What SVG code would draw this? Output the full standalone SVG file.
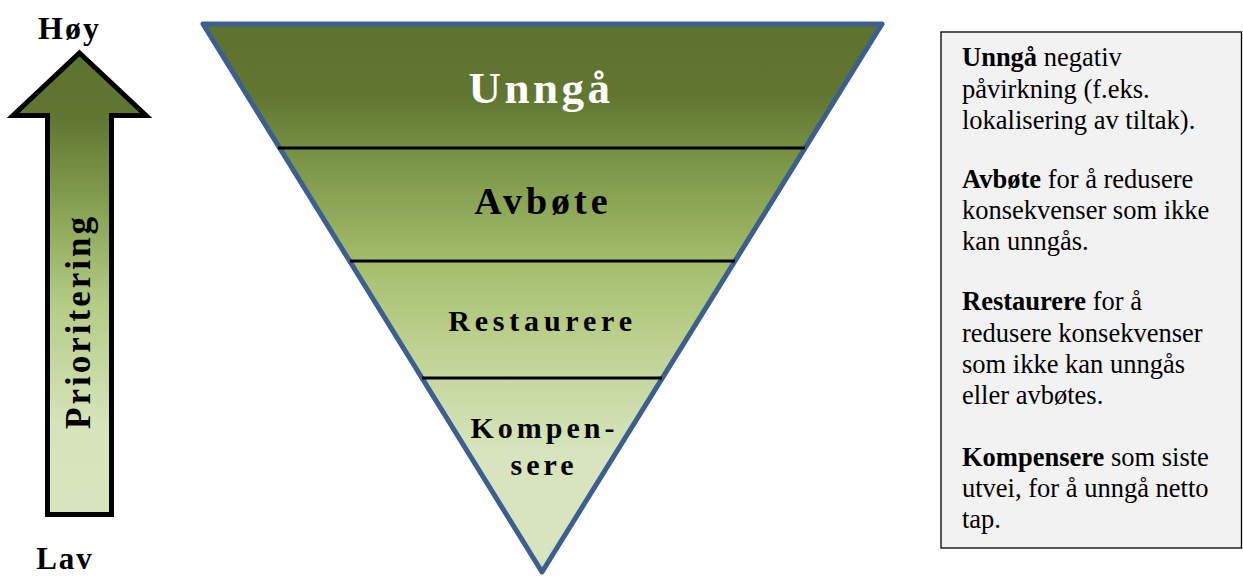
<svg xmlns="http://www.w3.org/2000/svg" width="1243" height="577" viewBox="0 0 1243 577">
<defs>
<linearGradient id="gTri" gradientUnits="userSpaceOnUse" x1="0" y1="24" x2="0" y2="572">
<stop offset="0" stop-color="#5e722f"/>
<stop offset="0.13" stop-color="#617631"/>
<stop offset="0.25" stop-color="#7a9545"/>
<stop offset="0.45" stop-color="#a6c070"/>
<stop offset="0.6" stop-color="#bfd393"/>
<stop offset="0.78" stop-color="#d7e4bd"/>
<stop offset="1" stop-color="#d8e4bd"/>
</linearGradient>
<linearGradient id="gArr" gradientUnits="userSpaceOnUse" x1="0" y1="50" x2="0" y2="515">
<stop offset="0" stop-color="#5e722f"/>
<stop offset="0.15" stop-color="#617631"/>
<stop offset="0.35" stop-color="#88a454"/>
<stop offset="0.55" stop-color="#b5cc86"/>
<stop offset="0.8" stop-color="#d6e3bb"/>
<stop offset="1" stop-color="#d8e4bd"/>
</linearGradient>
</defs>
<style>
.lbl{font-family:"Liberation Serif","Times New Roman",serif;font-weight:bold;text-anchor:middle;fill:#000}
.band{font-family:"Liberation Serif","Times New Roman",serif;font-weight:bold;text-anchor:middle;fill:#000}
.sep{stroke:#000;stroke-width:3;fill:none}
.box{font-family:"Liberation Serif","Times New Roman",serif;font-size:26.5px;fill:#000}
.b{font-weight:bold}
</style>
<g id="arrow">
<polygon points="79.5,53 146,115.5 111.5,115.5 111.5,514.5 47.5,514.5 47.5,115.5 13,115.5" fill="url(#gArr)" stroke="#000" stroke-width="5" stroke-linejoin="miter"/>
<text class="lbl" transform="translate(90,323) rotate(-90)" x="1.5" y="0" font-size="35" letter-spacing="3">Prioritering</text>
</g>
<g id="label-hoy">
<text class="lbl" x="69.5" y="39" font-size="32" letter-spacing="2">Høy</text>
</g>
<g id="label-lav">
<text class="lbl" x="65" y="569" font-size="31" letter-spacing="2">Lav</text>
</g>
<g id="pyramid">
<polygon points="203,24 882,24 542,572" fill="url(#gTri)" stroke="#3d5f8f" stroke-width="5" stroke-linejoin="round"/>
</g>
<g id="connectors">
<line class="sep" x1="278" y1="148" x2="805" y2="148"/>
<line class="sep" x1="350" y1="261" x2="735" y2="261"/>
<line class="sep" x1="422" y1="378" x2="662" y2="378"/>
</g>
<g id="band-unnga">
<text class="band" x="541" y="103" font-size="45" letter-spacing="3.5" style="fill:#fff">Unngå</text>
</g>
<g id="band-avbote">
<text class="band" x="543" y="214" font-size="38" letter-spacing="4">Avbøte</text>
</g>
<g id="band-restaurere">
<text class="band" x="542.5" y="331" font-size="30" letter-spacing="4.8">Restaurere</text>
</g>
<g id="band-kompensere">
<text class="band" x="544.5" y="438" font-size="30" letter-spacing="4">Kompen-</text>
<text class="band" x="544" y="475" font-size="30" letter-spacing="4">sere</text>
</g>
<g id="textbox">
<rect x="941" y="32" width="300.5" height="516" fill="#f2f2f2" stroke="#000" stroke-width="1.3"/>
<text class="box" x="962" y="66"><tspan class="b">Unngå</tspan> negativ</text>
<text class="box" x="962" y="97.5">påvirkning (f.eks.</text>
<text class="box" x="962" y="128.5">lokalisering av tiltak).</text>
<text class="box" x="962" y="187.5"><tspan class="b">Avbøte</tspan> for å redusere</text>
<text class="box" x="962" y="218.5">konsekvenser som ikke</text>
<text class="box" x="962" y="249.5">kan unngås.</text>
<text class="box" x="962" y="310"><tspan class="b">Restaurere</tspan> for å</text>
<text class="box" x="962" y="341.5">redusere konsekvenser</text>
<text class="box" x="962" y="373">som ikke kan unngås</text>
<text class="box" x="962" y="404">eller avbøtes.</text>
<text class="box" x="962" y="466"><tspan class="b">Kompensere</tspan> som siste</text>
<text class="box" x="962" y="497">utvei, for å unngå netto</text>
<text class="box" x="962" y="528">tap.</text>
</g>
</svg>
